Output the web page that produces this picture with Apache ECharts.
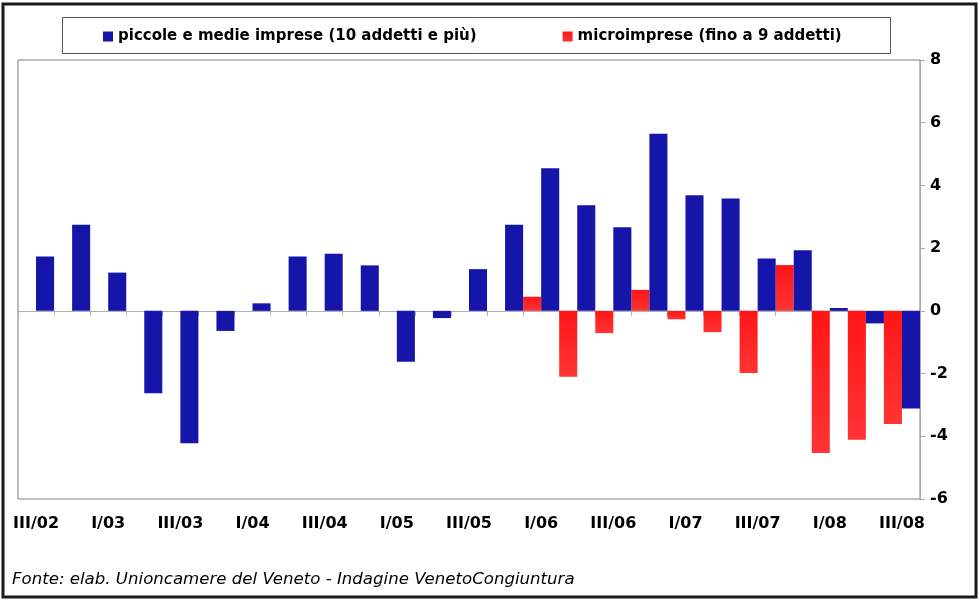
<!DOCTYPE html>
<html>
<head>
<meta charset="utf-8">
<script src="https://cdn.jsdelivr.net/npm/echarts@6/dist/echarts.min.js"></script>
<style>
  html, body { margin: 0; padding: 0; background: #fff; }
  #chart { width: 980px; height: 603px; }
</style>
</head>
<body>
<div id="chart"></div>
<script>
// trimestri dal III/02 al III/08
const quarters = [
  'III/02', 'IV/02', 'I/03', 'II/03', 'III/03', 'IV/03', 'I/04', 'II/04',
  'III/04', 'IV/04', 'I/05', 'II/05', 'III/05', 'IV/05', 'I/06', 'II/06',
  'III/06', 'IV/06', 'I/07', 'II/07', 'III/07', 'IV/07', 'I/08', 'II/08', 'III/08'
]
const pmiName = 'piccole e medie imprese (10 addetti e più)'
const microName = 'microimprese (fino a 9 addetti)'
// piccole e medie imprese
const pmiValues = [
  1.73, 2.75, 1.22, -2.63, -4.22, -0.64, 0.24, 1.73,
  1.82, 1.45, -1.62, -0.23, 1.33, 2.75, 4.55, 3.37,
  2.67, 5.65, 3.69, 3.58, 1.67, 1.93, 0.09, -0.40, -3.11
]
// microimprese: rilevate solo dal I/06
const microValues = [
  null, null, null, null, null, null, null, null,
  null, null, null, null, null, null, 0.45, -2.10,
  -0.71, 0.67, -0.27, -0.68, -1.98, 1.46, -4.53, -4.11, -3.61
]
const yTicks = { min: -6, max: 8, interval: 2 }

const chart = echarts.init(document.getElementById('chart'))

const option = {
  backgroundColor: '#fff',
  animation: false,
  textStyle: { fontFamily: 'DejaVu Sans' },
  graphic: [
    // cornice esterna
    {
      type: 'rect',
      shape: { x: 3, y: 4, width: 973, height: 593 },
      style: { fill: 'none', stroke: '#1a1a1a', lineWidth: 3 },
      silent: true
    },
    // riquadro legenda
    {
      type: 'rect',
      shape: { x: 62.5, y: 17.5, width: 828, height: 36 },
      style: { fill: '#fff', stroke: '#555', lineWidth: 1 },
      z: -1,
      silent: true
    },
    {
      type: 'text',
      left: 12,
      top: 571,
      style: {
        text: 'Fonte: elab. Unioncamere del Veneto - Indagine VenetoCongiuntura',
        fontFamily: 'DejaVu Sans',
        fontStyle: 'italic',
        fontSize: 16.6,
        fill: '#000'
      }
    }
  ],
  legend: {
    data: [pmiName, microName],
    left: 103,
    top: 29,
    padding: 0,
    icon: 'rect',
    itemWidth: 10,
    itemHeight: 10,
    itemGap: 86,
    textStyle: { fontSize: 15, fontWeight: 'bold', color: '#000' }
  },
  grid: {
    left: 18,
    right: 60,
    top: 60,
    bottom: 104,
    show: true,
    borderColor: '#7f7f7f',
    borderWidth: 1
  },
  xAxis: [
    {
      // asse sullo zero con le tacche
      type: 'category',
      data: quarters,
      axisLine: { onZero: true, lineStyle: { color: '#b0b0b0', width: 1 } },
      axisTick: { show: true, interval: 0, length: 5, lineStyle: { color: '#b0b0b0' } },
      axisLabel: { show: false },
      splitLine: { show: false }
    },
    {
      // etichette in basso
      type: 'category',
      data: quarters,
      position: 'bottom',
      axisLine: { show: false, onZero: false },
      axisTick: { show: false },
      axisLabel: {
        interval: 1,
        margin: 17,
        fontSize: 16,
        fontWeight: 'bold',
        color: '#000'
      }
    }
  ],
  yAxis: {
    type: 'value',
    position: 'right',
    min: yTicks.min,
    max: yTicks.max,
    interval: yTicks.interval,
    axisLine: { show: true, lineStyle: { color: '#a8a8a8' } },
    axisTick: { show: true, length: 5, lineStyle: { color: '#a8a8a8' } },
    axisLabel: { margin: 10, fontSize: 16, fontWeight: 'bold', color: '#000' },
    splitLine: { show: false }
  },
  series: [
    {
      name: microName,
      type: 'bar',
      data: microValues,
      barGap: '0%',
      barCategoryGap: '0%',
      itemStyle: {
        color: new echarts.graphic.LinearGradient(0, 0, 0, 1, [
          { offset: 0, color: '#ff1616' },
          { offset: 1, color: '#ff3434' }
        ])
      }
    },
    {
      name: pmiName,
      type: 'bar',
      data: pmiValues,
      barGap: '0%',
      barCategoryGap: '0%',
      itemStyle: { color: '#1515aa' }
    }
  ]
}
chart.setOption(option)
</script>
</body>
</html>
